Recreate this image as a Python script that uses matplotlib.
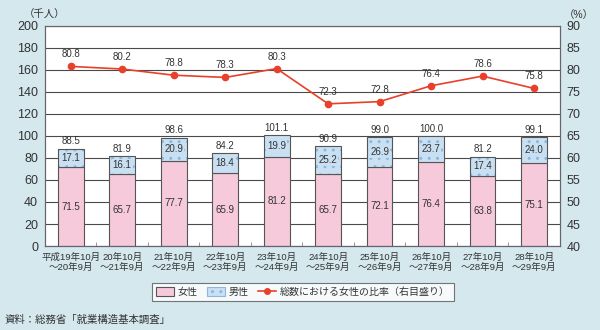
import numpy as np
import matplotlib.pyplot as plt
from matplotlib.patches import Patch
from matplotlib.lines import Line2D

plt.rcParams['font.family'] = ['Liberation Sans', 'Noto Sans CJK JP', 'DejaVu Sans']

labels = ['平成19年10月\n～20年9月', '20年10月\n～21年9月', '21年10月\n～22年9月',
          '22年10月\n～23年9月', '23年10月\n～24年9月', '24年10月\n～25年9月',
          '25年10月\n～26年9月', '26年10月\n～27年9月', '27年10月\n～28年9月',
          '28年10月\n～29年9月']
female = [71.5, 65.7, 77.7, 65.9, 81.2, 65.7, 72.1, 76.4, 63.8, 75.1]
male = [17.1, 16.1, 20.9, 18.4, 19.9, 25.2, 26.9, 23.7, 17.4, 24.0]
total = [88.5, 81.9, 98.6, 84.2, 101.1, 90.9, 99.0, 100.0, 81.2, 99.1]
ratio = [80.8, 80.2, 78.8, 78.3, 80.3, 72.3, 72.8, 76.4, 78.6, 75.8]

bg = '#d4e8ee'
pink = '#f6cadb'
blue = '#c9e0f2'
red = '#e8402a'
edge = '#555555'
txt = '#333333'

fig = plt.figure(figsize=(6, 3.3), dpi=100, facecolor=bg)
ax = fig.add_axes([0.075, 0.2545, 0.858, 0.667])
ax.set_facecolor('white')
x = np.arange(len(labels))
w = 0.5

ax.set_axisbelow(True)
ax.yaxis.grid(True, color='#4a4a4a', lw=0.8)
ax.bar(x, female, w, color=pink, edgecolor=edge, lw=0.8, zorder=2)
ax.bar(x, male, w, bottom=female, color=blue, edgecolor='#8ab8e0', hatch='..',
       lw=0, zorder=2)
ax.bar(x, male, w, bottom=female, fill=False, edgecolor=edge, lw=0.8, zorder=3)

for i in range(len(x)):
    ax.text(x[i], female[i] / 2, f'{female[i]:.1f}', ha='center', va='center',
            fontsize=7, color=txt, zorder=4)
    ax.text(x[i], female[i] + male[i] / 2, f'{male[i]:.1f}', ha='center', va='center',
            fontsize=7, color=txt, zorder=4,
            bbox=dict(boxstyle='square,pad=0.1', fc=blue, ec='none'))
    ax.text(x[i], total[i] + 2, f'{total[i]:.1f}', ha='center', va='bottom',
            fontsize=7, color=txt, zorder=4)

ax.set_xlim(-0.5, len(x) - 0.5)
ax.set_ylim(0, 200)
ax.set_yticks(np.arange(0, 201, 20))
ax.set_xticks(x)
ax.set_xticklabels(labels, fontsize=6.8, linespacing=1.15, color=txt)
ax.tick_params(axis='x', length=0, pad=5)
ax.set_xticks(np.arange(0.5, len(x) - 1, 1), minor=True)
ax.tick_params(axis='x', which='minor', direction='in', length=3, color='#888888')
ax.tick_params(axis='y', length=0, labelsize=9, pad=5, labelcolor=txt)
for s in ax.spines.values():
    s.set_color('#666666')
    s.set_linewidth(0.8)

ax2 = ax.twinx()
ax2.set_ylim(40, 90)
ax2.set_yticks(np.arange(40, 91, 5))
ax2.tick_params(axis='y', length=0, labelsize=9, pad=5, labelcolor=txt)
ax2.plot(x, ratio, color=red, lw=1.2, marker='o', ms=4.5, zorder=5)
for i in range(len(x)):
    ax2.text(x[i], ratio[i] + 1.6, f'{ratio[i]:.1f}', ha='center', va='bottom',
             fontsize=7, color=txt)
for s in ax2.spines.values():
    s.set_color('#666666')
    s.set_linewidth(0.8)

fig.text(0.04, 0.955, '（千人）', fontsize=7.5, ha='left', va='center', color=txt)
fig.text(0.965, 0.955, '（%）', fontsize=7.5, ha='center', va='center', color=txt)

handles = [Patch(facecolor=pink, edgecolor=edge, lw=0.8),
           Patch(facecolor=blue, edgecolor='#8ab8e0', hatch='..', lw=0.8),
           Line2D([0], [0], color=red, marker='o', ms=4, lw=1.2)]
leg = fig.legend(handles, ['女性', '男性', '総数における女性の比率（右目盛り）'],
                 loc='center', bbox_to_anchor=(0.505, 0.115), ncol=3, fontsize=7.2,
                 frameon=True, fancybox=False, edgecolor='#555555',
                 handlelength=1.8, handleheight=1.0, columnspacing=0.9,
                 handletextpad=0.4, borderpad=0.4)
leg.get_frame().set_linewidth(0.8)
for t in leg.get_texts():
    t.set_color(txt)

fig.text(0.008, 0.03, '資料：総務省「就業構造基本調査」', fontsize=7.5, ha='left',
         va='center', color=txt)

fig.savefig('out.png', dpi=100, facecolor=bg)
